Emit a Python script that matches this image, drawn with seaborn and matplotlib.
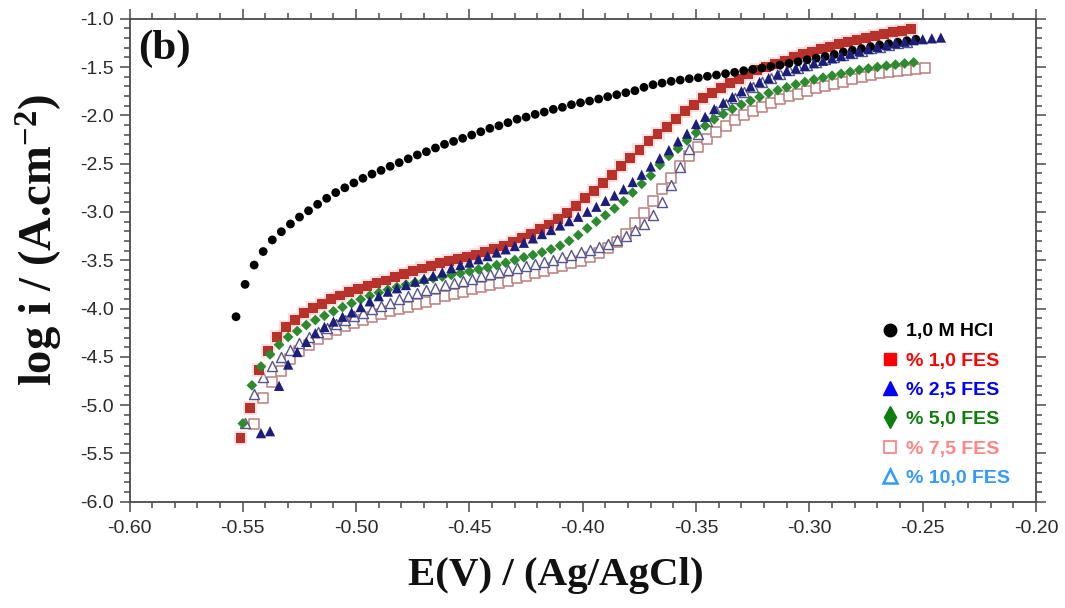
import numpy as np
import pandas as pd
import matplotlib
matplotlib.use("Agg")
import matplotlib.pyplot as plt
import seaborn as sns
from matplotlib.lines import Line2D
from matplotlib.ticker import MultipleLocator, FormatStrFormatter

# ---------------- data (E in V vs Ag/AgCl, log i in A.cm-2) ----------------
hcl_E = [-0.553, -0.549, -0.545, -0.541, -0.537, -0.533, -0.529, -0.525, -0.521, -0.517,
         -0.513, -0.509, -0.505, -0.501, -0.497, -0.493, -0.489, -0.485, -0.481, -0.477,
         -0.473, -0.469, -0.465, -0.461, -0.457, -0.453, -0.449, -0.445, -0.441, -0.437,
         -0.433, -0.429, -0.425, -0.421, -0.417, -0.413, -0.409, -0.405, -0.401, -0.397,
         -0.393, -0.389, -0.385, -0.381, -0.377, -0.373, -0.369, -0.365, -0.361, -0.357,
         -0.353, -0.349, -0.345, -0.341, -0.337, -0.333, -0.329, -0.325, -0.321, -0.317,
         -0.313, -0.309, -0.305, -0.301, -0.297, -0.293, -0.289, -0.285, -0.281, -0.277,
         -0.273, -0.269, -0.265, -0.261, -0.257, -0.253]
hcl_logi = [-4.085, -3.75, -3.55, -3.41, -3.29, -3.205, -3.125, -3.053, -2.988, -2.921,
            -2.859, -2.80, -2.75, -2.70, -2.652, -2.608, -2.57, -2.528, -2.49, -2.45,
            -2.41, -2.377, -2.338, -2.30, -2.27, -2.238, -2.204, -2.17, -2.135, -2.108,
            -2.076, -2.04, -2.018, -1.99, -1.966, -1.938, -1.917, -1.89, -1.87, -1.852,
            -1.831, -1.807, -1.787, -1.766, -1.745, -1.71, -1.683, -1.666, -1.648, -1.635,
            -1.621, -1.611, -1.596, -1.583, -1.569, -1.555, -1.538, -1.524, -1.51, -1.495,
            -1.48, -1.462, -1.445, -1.425, -1.408, -1.39, -1.37, -1.345, -1.328, -1.31,
            -1.29, -1.272, -1.258, -1.243, -1.228, -1.213]

fes10_E = [-0.551, -0.547, -0.543, -0.539, -0.535, -0.531, -0.527, -0.523, -0.519, -0.515,
           -0.511, -0.507, -0.503, -0.499, -0.495, -0.491, -0.487, -0.483, -0.479, -0.475,
           -0.471, -0.467, -0.463, -0.459, -0.455, -0.451, -0.447, -0.443, -0.439, -0.435,
           -0.431, -0.427, -0.423, -0.419, -0.415, -0.411, -0.407, -0.403, -0.399, -0.395,
           -0.391, -0.387, -0.383, -0.379, -0.375, -0.371, -0.367, -0.363, -0.359, -0.355,
           -0.351, -0.347, -0.343, -0.339, -0.335, -0.331, -0.327, -0.323, -0.319, -0.315,
           -0.311, -0.307, -0.303, -0.299, -0.295, -0.291, -0.287, -0.283, -0.279, -0.275,
           -0.271, -0.267, -0.263, -0.259, -0.255]
fes10_logi = [-5.344, -5.033, -4.637, -4.437, -4.298, -4.188, -4.115, -4.05, -3.998, -3.95,
              -3.905, -3.865, -3.83, -3.80, -3.765, -3.737, -3.71, -3.675, -3.645, -3.612,
              -3.585, -3.557, -3.532, -3.511, -3.49, -3.467, -3.442, -3.416, -3.388, -3.355,
              -3.31, -3.27, -3.225, -3.18, -3.13, -3.075, -3.015, -2.939, -2.853, -2.784,
              -2.698, -2.618, -2.525, -2.439, -2.359, -2.266, -2.194, -2.118, -2.041, -1.958,
              -1.89, -1.824, -1.769, -1.717, -1.665, -1.62, -1.574, -1.535, -1.503, -1.469,
              -1.435, -1.40, -1.369, -1.342, -1.317, -1.29, -1.265, -1.244, -1.22, -1.197,
              -1.176, -1.158, -1.138, -1.124, -1.11]

fes25_E = [-0.542, -0.538, -0.534, -0.530, -0.526, -0.522, -0.518, -0.514, -0.510, -0.506,
           -0.502, -0.498, -0.494, -0.490, -0.486, -0.482, -0.478, -0.474, -0.470, -0.466,
           -0.462, -0.458, -0.454, -0.450, -0.446, -0.442, -0.438, -0.434, -0.430, -0.426,
           -0.422, -0.418, -0.414, -0.410, -0.406, -0.402, -0.398, -0.394, -0.390, -0.386,
           -0.382, -0.378, -0.374, -0.370, -0.366, -0.362, -0.358, -0.354, -0.350, -0.346,
           -0.342, -0.338, -0.334, -0.330, -0.326, -0.322, -0.318, -0.314, -0.310, -0.306,
           -0.302, -0.298, -0.294, -0.290, -0.286, -0.282, -0.278, -0.274, -0.270, -0.266,
           -0.262, -0.258, -0.254, -0.250, -0.246, -0.242]
fes25_logi = [-5.29, -5.27, -4.80, -4.58, -4.45, -4.345, -4.255, -4.19, -4.135, -4.085,
              -4.04, -3.985, -3.925, -3.872, -3.825, -3.79, -3.757, -3.722, -3.69, -3.66,
              -3.625, -3.582, -3.55, -3.524, -3.49, -3.457, -3.42, -3.387, -3.353, -3.319,
              -3.274, -3.229, -3.187, -3.14, -3.095, -3.05, -2.998, -2.946, -2.885, -2.83,
              -2.765, -2.69, -2.615, -2.53, -2.445, -2.36, -2.27, -2.19, -2.09, -2.015,
              -1.935, -1.87, -1.81, -1.75, -1.70, -1.655, -1.615, -1.575, -1.54, -1.514,
              -1.49, -1.46, -1.435, -1.41, -1.386, -1.36, -1.336, -1.314, -1.292, -1.272,
              -1.255, -1.238, -1.222, -1.212, -1.203, -1.195]

fes50_E = [-0.550, -0.546, -0.542, -0.538, -0.534, -0.530, -0.526, -0.522, -0.518, -0.514,
           -0.510, -0.506, -0.502, -0.498, -0.494, -0.490, -0.486, -0.482, -0.478, -0.474,
           -0.470, -0.466, -0.462, -0.458, -0.454, -0.450, -0.446, -0.442, -0.438, -0.434,
           -0.430, -0.426, -0.422, -0.418, -0.414, -0.410, -0.406, -0.402, -0.398, -0.394,
           -0.390, -0.386, -0.382, -0.378, -0.374, -0.370, -0.366, -0.362, -0.358, -0.354,
           -0.350, -0.346, -0.342, -0.338, -0.334, -0.330, -0.326, -0.322, -0.318, -0.314,
           -0.310, -0.306, -0.302, -0.298, -0.294, -0.290, -0.286, -0.282, -0.278, -0.274,
           -0.270, -0.266, -0.262, -0.258, -0.254]
fes50_logi = [-5.19, -4.795, -4.60, -4.475, -4.375, -4.295, -4.233, -4.171, -4.119, -4.075,
              -4.029, -3.985, -3.945, -3.905, -3.868, -3.835, -3.805, -3.778, -3.752, -3.73,
              -3.708, -3.688, -3.67, -3.652, -3.635, -3.616, -3.594, -3.574, -3.55, -3.526,
              -3.498, -3.47, -3.446, -3.418, -3.387, -3.35, -3.30, -3.24, -3.17, -3.10,
              -3.035, -2.965, -2.89, -2.80, -2.71, -2.625, -2.515, -2.42, -2.345, -2.26,
              -2.18, -2.108, -2.041, -1.987, -1.935, -1.89, -1.85, -1.81, -1.77, -1.74,
              -1.71, -1.68, -1.655, -1.63, -1.61, -1.59, -1.57, -1.55, -1.53, -1.515,
              -1.50, -1.487, -1.475, -1.463, -1.452]

fes75_E = [-0.545, -0.541, -0.537, -0.533, -0.529, -0.525, -0.521, -0.517, -0.513, -0.509,
           -0.505, -0.501, -0.497, -0.493, -0.489, -0.485, -0.481, -0.477, -0.473, -0.469,
           -0.465, -0.461, -0.457, -0.453, -0.449, -0.445, -0.441, -0.437, -0.433, -0.429,
           -0.425, -0.421, -0.417, -0.413, -0.409, -0.405, -0.401, -0.397, -0.393, -0.389,
           -0.385, -0.381, -0.377, -0.373, -0.369, -0.365, -0.361, -0.357, -0.353, -0.349,
           -0.345, -0.341, -0.337, -0.333, -0.329, -0.325, -0.321, -0.317, -0.313, -0.309,
           -0.305, -0.301, -0.297, -0.293, -0.289, -0.285, -0.281, -0.277, -0.273, -0.269,
           -0.265, -0.261, -0.257, -0.253, -0.249]
fes75_logi = [-5.196, -4.925, -4.765, -4.65, -4.525, -4.44, -4.374, -4.32, -4.264, -4.223,
              -4.181, -4.147, -4.119, -4.085, -4.055, -4.03, -4.005, -3.98, -3.955, -3.93,
              -3.90, -3.873, -3.85, -3.826, -3.80, -3.781, -3.757, -3.739, -3.715, -3.687,
              -3.664, -3.636, -3.609, -3.584, -3.56, -3.532, -3.505, -3.47, -3.429, -3.377,
              -3.308, -3.229, -3.118, -3.01, -2.882, -2.76, -2.65, -2.52, -2.42, -2.33,
              -2.25, -2.175, -2.11, -2.05, -2.0, -1.955, -1.915, -1.87, -1.835, -1.80,
              -1.775, -1.75, -1.722, -1.695, -1.672, -1.652, -1.625, -1.608, -1.585, -1.565,
              -1.553, -1.543, -1.535, -1.525, -1.514]

fes100_E = [-0.549, -0.545, -0.541, -0.537, -0.533, -0.529, -0.525, -0.521, -0.517, -0.513,
            -0.509, -0.505, -0.501, -0.497, -0.493, -0.489, -0.485, -0.481, -0.477, -0.473,
            -0.469, -0.465, -0.461, -0.457, -0.453, -0.449, -0.445, -0.441, -0.437, -0.433,
            -0.429, -0.425, -0.421, -0.417, -0.413, -0.409, -0.405, -0.401, -0.397, -0.393,
            -0.389, -0.385, -0.381, -0.377, -0.373, -0.369, -0.365, -0.361, -0.357, -0.353,
            -0.349, -0.345, -0.341, -0.337, -0.333, -0.329, -0.325, -0.321, -0.317, -0.313,
            -0.309, -0.305, -0.301, -0.297, -0.293, -0.289, -0.285, -0.281, -0.277, -0.273,
            -0.269, -0.265, -0.261, -0.257]
fes100_logi = [-5.19, -4.89, -4.71, -4.59, -4.50, -4.43, -4.36, -4.298, -4.246, -4.20,
               -4.16, -4.12, -4.08, -4.045, -4.01, -3.975, -3.94, -3.905, -3.872, -3.84,
               -3.81, -3.785, -3.76, -3.735, -3.712, -3.69, -3.668, -3.646, -3.625, -3.604,
               -3.583, -3.562, -3.54, -3.518, -3.495, -3.47, -3.445, -3.418, -3.39, -3.36,
               -3.33, -3.29, -3.245, -3.19, -3.125, -3.03, -2.90, -2.72, -2.54, -2.347,
               -2.195, -2.057, -1.958, -1.88, -1.82, -1.76, -1.71, -1.66, -1.61, -1.57,
               -1.535, -1.507, -1.479, -1.447, -1.42, -1.40, -1.376, -1.352, -1.331, -1.306,
               -1.29, -1.272, -1.255, -1.244]

legend_labels = ["1,0 M HCl", "% 1,0 FES", "% 2,5 FES", "% 5,0 FES", "% 7,5 FES", "% 10,0 FES"]
x_ticks = [-0.60, -0.55, -0.50, -0.45, -0.40, -0.35, -0.30, -0.25, -0.20]
y_ticks = [-6.0, -5.5, -5.0, -4.5, -4.0, -3.5, -3.0, -2.5, -2.0, -1.5, -1.0]

# ---------------- style ----------------
sns.set_theme(style="white")
plt.rcParams['font.family'] = ['Liberation Sans', 'DejaVu Sans']
plt.rcParams['axes.unicode_minus'] = False
plt.rcParams['mathtext.fontset'] = 'custom'
plt.rcParams['mathtext.rm'] = 'Liberation Serif:bold'
plt.rcParams['mathtext.bf'] = 'Liberation Serif:bold'
plt.rcParams['mathtext.it'] = 'Liberation Serif:bold'

fig = plt.figure(figsize=(10.65, 6.08), dpi=100)
ax = fig.add_axes([0.1216, 0.1748, 0.8512, 0.7944])

# plotting order mimics overlap in the reference
sns.scatterplot(x=fes75_E, y=fes75_logi, ax=ax, marker='s', s=52,
                facecolor='white', edgecolor='#bb7d7d', linewidth=1.1, legend=False, zorder=3)
sns.scatterplot(x=fes100_E, y=fes100_logi, ax=ax, marker='^', s=52,
                facecolor='white', edgecolor='#55558f', linewidth=1.0, legend=False, zorder=4)
# soft halo around red squares
sns.scatterplot(x=fes10_E, y=fes10_logi, ax=ax, marker='s', s=100,
                color='#ffc2c2', edgecolor='none', alpha=0.5, legend=False, zorder=4.5)
sns.scatterplot(x=fes10_E, y=fes10_logi, ax=ax, marker='s', s=50,
                color='#b8312a', edgecolor='none', legend=False, zorder=5)
sns.scatterplot(x=fes50_E, y=fes50_logi, ax=ax, marker='D', s=30,
                color='#2e8a2e', edgecolor='none', legend=False, zorder=6)
sns.scatterplot(x=hcl_E, y=hcl_logi, ax=ax, marker='o', s=40,
                color='black', edgecolor='none', legend=False, zorder=7)
sns.scatterplot(x=fes25_E, y=fes25_logi, ax=ax, marker='^', s=55,
                color='#1c1f7a', edgecolor='none', legend=False, zorder=8)

# axes
ax.set_xlim(-0.60, -0.20)
ax.set_ylim(-6.0, -1.0)
ax.set_xticks(x_ticks)
ax.set_yticks(y_ticks)
ax.xaxis.set_major_formatter(FormatStrFormatter('%.2f'))
ax.yaxis.set_major_formatter(FormatStrFormatter('%.1f'))
ax.xaxis.set_minor_locator(MultipleLocator(0.01))
ax.yaxis.set_minor_locator(MultipleLocator(0.1))
frame_col = '#4a4a4a'
for sp in ax.spines.values():
    sp.set_color(frame_col)
    sp.set_linewidth(1.3)
ax.tick_params(which='both', direction='out', top=True, right=True,
               bottom=True, left=True, color=frame_col, width=1.1)
ax.tick_params(which='major', length=7, labelsize=14, labelcolor='#2a2a2a', pad=4)
ax.tick_params(which='minor', length=4)
ax.tick_params(axis='x', which='major', pad=6)
ax.grid(False)

serif = ['Liberation Serif', 'DejaVu Serif']
ax.set_xlabel("E(V) / (Ag/AgCl)", fontfamily=serif, fontweight='bold',
              fontsize=29.5, color='#111111')
ax.xaxis.set_label_coords(0.4705, -0.115)
ax.set_ylabel(r"log i / (A.cm$^{-2}$)", fontfamily=serif, fontweight='bold',
              fontsize=33.5, color='#111111')
ax.yaxis.set_label_coords(-0.071, 0.542)
ax.text(0.009, 0.977, "(b)", transform=ax.transAxes, ha='left', va='top',
        fontfamily=serif, fontweight='bold', fontsize=31, color='#111111')

# legend
handles = [
    Line2D([], [], ls='none', marker='o', color='black', markersize=9),
    Line2D([], [], ls='none', marker='s', color='#ff0000', markersize=9),
    Line2D([], [], ls='none', marker='^', color='#0000ff', markersize=10),
    Line2D([], [], ls='none', marker='d', color='#0d7d0d', markersize=11),
    Line2D([], [], ls='none', marker='s', markerfacecolor='white', markeredgecolor='#ff8585',
           markeredgewidth=1.3, markersize=9),
    Line2D([], [], ls='none', marker='^', markerfacecolor='white', markeredgecolor='#3399ff',
           markeredgewidth=1.8, markersize=10),
]
leg = ax.legend(handles, legend_labels, loc='upper left', bbox_to_anchor=(0.817, 0.3905),
                frameon=False, borderpad=0, handlelength=1.0, handletextpad=0.35,
                labelspacing=0.6,
                prop={'family': 'Liberation Sans', 'weight': 'bold', 'size': 14},
                labelcolor=['black', '#ff0000', '#0000ff', '#0d7d0d', '#ff8585', '#3399ff'])

fig.savefig("out.png", dpi=100, facecolor='white')
